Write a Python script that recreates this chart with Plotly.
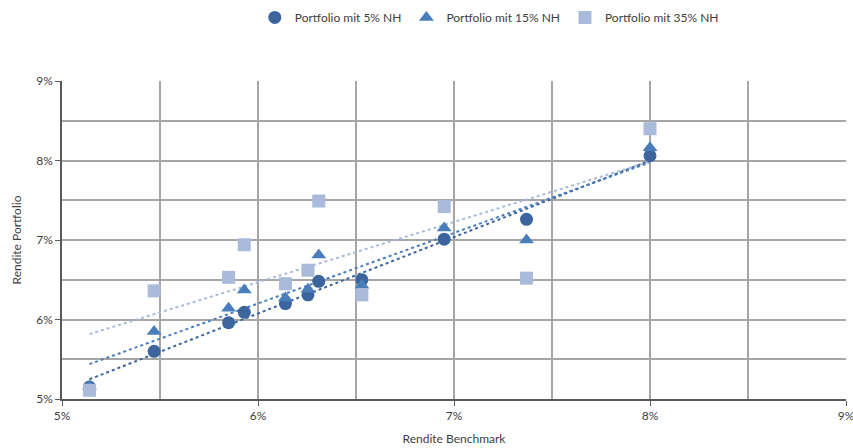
import numpy as np
import plotly.graph_objects as go

benchmark = [5.14, 5.47, 5.85, 5.93, 6.14, 6.255, 6.31, 6.53, 6.95, 7.37, 8.0]
nh5 = [5.15, 5.60, 5.96, 6.09, 6.20, 6.31, 6.48, 6.50, 7.01, 7.26, 8.06]
nh15 = [5.16, 5.85, 6.14, 6.37, 6.27, 6.38, 6.81, 6.43, 7.15, 7.00, 8.16]
nh35 = [5.11, 6.36, 6.53, 6.94, 6.45, 6.62, 7.49, 6.31, 7.42, 6.52, 8.40]

names = ["Portfolio mit 5% NH", "Portfolio mit 15% NH", "Portfolio mit 35% NH"]
colors = ["#3B659C", "#4A7EBB", "#A9BADA"]
symbols = ["circle", "triangle-up", "square"]
series = [nh5, nh15, nh35]

x = np.array(benchmark) / 100
fig = go.Figure()

# trendlines first (behind markers)
for ys, c in zip(series, colors):
    y = np.array(ys) / 100
    k, d = np.polyfit(x, y, 1)
    xs = np.array([x.min(), x.max()])
    fig.add_trace(go.Scatter(x=xs, y=k * xs + d, mode="lines",
                             line=dict(color=c, width=2, dash="dot"),
                             showlegend=False, hoverinfo="skip"))

for ys, n, c, s in zip(series, names, colors, symbols):
    fig.add_trace(go.Scatter(x=x, y=np.array(ys) / 100, mode="markers", name=n,
                             marker=dict(color=c, symbol=s, size=13,
                                         line=dict(width=0))))

fam = "Lato, Open Sans, sans-serif"
tc = "#404040"
fig.update_layout(
    width=853, height=448,
    margin=dict(l=62, r=7, t=81, b=49, autoexpand=False),
    paper_bgcolor="white", plot_bgcolor="white",
    font=dict(family=fam, size=12, color=tc),
    legend=dict(orientation="h", x=0.545, xanchor="center", y=1.2, yanchor="middle",
                font=dict(family=fam, size=12, color=tc), itemwidth=30,
                tracegroupgap=0, traceorder="normal"),
)
axis_common = dict(
    showgrid=True, gridcolor="#A6A6A6", gridwidth=1.5,
    showline=True, linecolor="#595959", linewidth=1.5,
    ticks="outside", ticklen=5, tickcolor="#595959",
    tickformat=".0%", dtick=0.01, zeroline=False, automargin=False,
    ticklabeloverflow="allow",
    minor=dict(dtick=0.005, showgrid=True, gridcolor="#A6A6A6", gridwidth=1.5),
    tickfont=dict(family=fam, size=12, color=tc),
)
fig.update_xaxes(range=[0.05, 0.09], title=dict(text="Rendite Benchmark", standoff=12,
                 font=dict(family=fam, size=12, color=tc)), **axis_common)
fig.update_yaxes(range=[0.05, 0.09], title=dict(text="Rendite Portfolio", standoff=12,
                 font=dict(family=fam, size=12, color=tc)), **axis_common)

fig.write_html("out.html", config={"displayModeBar": False},
               post_script="document.body.style.margin='0';document.body.style.overflow='hidden';")
